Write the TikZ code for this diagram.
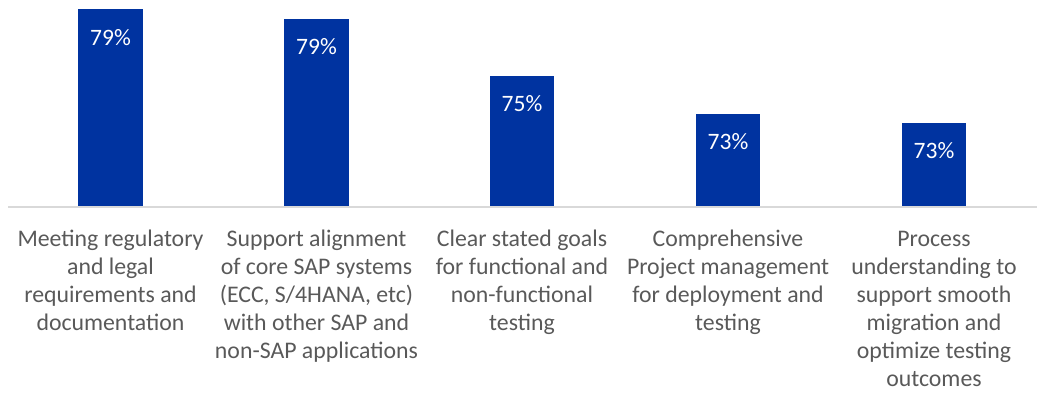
\documentclass[tikz,border=0pt]{standalone}
\usepackage{fontspec}
\setmainfont{Carlito}
\usepackage{xcolor}
\usetikzlibrary{positioning}
\definecolor{barblue}{HTML}{0033A0}
\definecolor{labelgrey}{HTML}{595959}
\definecolor{axisgrey}{HTML}{D9D9D9}

\begin{document}
\begin{tikzpicture}[x=1pt, y=1pt,
    bar/.style={rectangle, fill=barblue, inner sep=0pt, outer sep=0pt, minimum width=64.5pt, anchor=south},
    pct/.style={text=white, inner sep=0pt, anchor=base, font=\fontsize{23.5}{28}\selectfont},
    cat/.style={text=labelgrey, inner sep=0pt, anchor=base, align=center, font=\fontsize{23.8}{28}\selectfont}]
                    \useasboundingbox (0, 0) rectangle (1037, -403);

                    \draw[axisgrey, line width=1.5pt] (8, -206.8) -- (1037, -206.8);

                    \node[bar, minimum height=196.5pt] (b1) at (110.5, -206) {};
                    \node[bar, minimum height=187pt] (b2) at (316.5, -206) {};
                    \node[bar, minimum height=130.3pt] (b3) at (522, -206) {};
                    \node[bar, minimum height=91.7pt] (b4) at (728, -206) {};
                    \node[bar, minimum height=82.7pt] (b5) at (934, -206) {};

                    \node[pct] (p1) at ([yshift=-35.6pt]b1.north) {79\%};
                    \node[pct] (p2) at ([yshift=-35.6pt]b2.north) {79\%};
                    \node[pct] (p3) at ([yshift=-35.6pt]b3.north) {75\%};
                    \node[pct] (p4) at ([yshift=-35.6pt]b4.north) {73\%};
                    \node[pct] (p5) at ([yshift=-35.6pt]b5.north) {73\%};

                    % base anchor sits on the last line
                    \node[cat] (l1) at (110.5, -330.7) {Meeting regulatory\\and legal\\requirements and\\documentation};
                    \node[cat] (l2) at (316.5, -358.7) {Support alignment\\of core SAP systems\\(ECC, S/4HANA, etc)\\with other SAP and\\non-SAP applications};
                    \node[cat] (l3) at (522, -330.7) {Clear stated goals\\for functional and\\non-functional\\testing};
                    \node[cat] (l4) at (728, -330.7) {Comprehensive\\Project management\\for deployment and\\testing};
                    \node[cat] (l5) at (934, -386.7) {Process\\understanding to\\support smooth\\migration and\\optimize testing\\outcomes};
                \end{tikzpicture}
\end{document}
